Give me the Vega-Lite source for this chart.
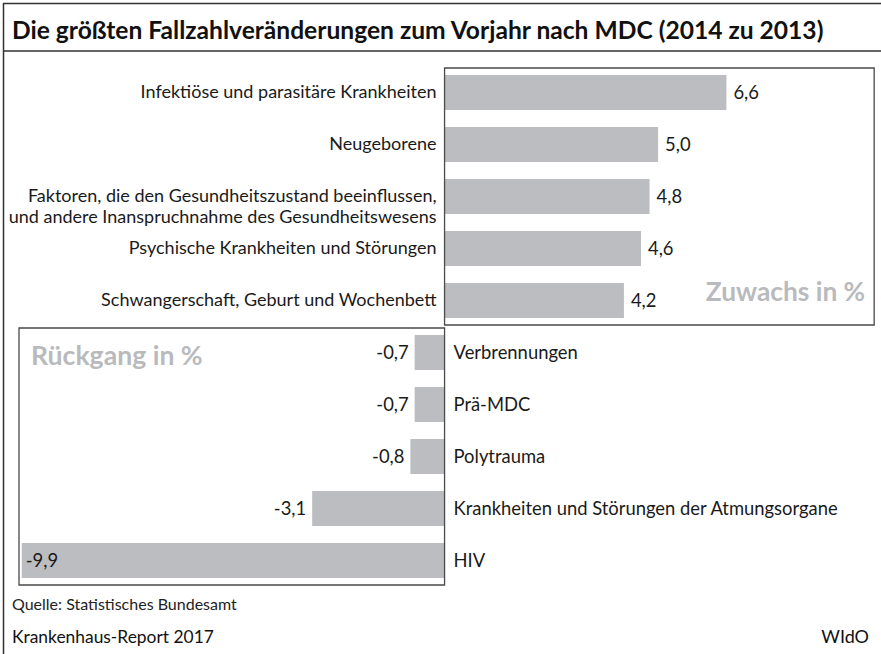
{
  "$schema": "https://vega.github.io/schema/vega-lite/v6.json",
  "width": 881,
  "height": 654,
  "autosize": "none",
  "padding": 0,
  "background": "white",
  "config": {
    "view": {"stroke": null},
    "font": "Lato",
    "locale": {"number": {"decimal": ",", "thousands": ".", "grouping": [3], "currency": ["", " €"], "minus": "-"}}
  },
  "datasets": {
    "mdc": [
      {"Kategorie": "Infektiöse und parasitäre Krankheiten", "Wert": 6.6},
      {"Kategorie": "Neugeborene", "Wert": 5.0},
      {"Kategorie": "Faktoren, die den Gesundheitszustand beeinflussen,\nund andere Inanspruchnahme des Gesundheitswesens", "Wert": 4.8},
      {"Kategorie": "Psychische Krankheiten und Störungen", "Wert": 4.6},
      {"Kategorie": "Schwangerschaft, Geburt und Wochenbett", "Wert": 4.2},
      {"Kategorie": "Verbrennungen", "Wert": -0.7},
      {"Kategorie": "Prä-MDC", "Wert": -0.7},
      {"Kategorie": "Polytrauma", "Wert": -0.8},
      {"Kategorie": "Krankheiten und Störungen der Atmungsorgane", "Wert": -3.1},
      {"Kategorie": "HIV", "Wert": -9.9}
    ],
    "boxen": [
      {"Bereich": "Zuwachs in %", "von": "Infektiöse und parasitäre Krankheiten", "bis": "Schwangerschaft, Geburt und Wochenbett", "min": 0, "max": 10.06},
      {"Bereich": "Rückgang in %", "von": "Verbrennungen", "bis": "HIV", "min": -9.965, "max": 0}
    ]
  },
  "layer": [
    {
      "data": {"name": "mdc"},
      "mark": {"type": "bar", "color": "#bcbdc0"},
      "encoding": {
        "y": {"field": "Kategorie", "type": "nominal", "axis": null,
              "scale": {"domain": ["Infektiöse und parasitäre Krankheiten", "Neugeborene", "Faktoren, die den Gesundheitszustand beeinflussen,\nund andere Inanspruchnahme des Gesundheitswesens", "Psychische Krankheiten und Störungen", "Schwangerschaft, Geburt und Wochenbett", "Verbrennungen", "Prä-MDC", "Polytrauma", "Krankheiten und Störungen der Atmungsorgane", "HIV"],
                        "range": [66.5, 586.5], "paddingInner": 0.327, "paddingOuter": 0.1635}},
        "x": {"field": "Wert", "type": "quantitative", "axis": null,
              "scale": {"domain": [-10.41, 10.22], "nice": false, "zero": false}},
        "x2": {"datum": 0}
      }
    },
    {
      "data": {"name": "mdc"},
      "transform": [{"filter": "datum.Wert > 0"}],
      "mark": {"type": "text", "align": "right", "baseline": "middle", "dx": -8, "fontSize": 18, "color": "#1a1a1a", "lineBreak": "\n", "lineHeight": 21},
      "encoding": {
        "y": {"field": "Kategorie", "type": "nominal"},
        "x": {"datum": 0, "type": "quantitative"},
        "text": {"field": "Kategorie"}
      }
    },
    {
      "data": {"name": "mdc"},
      "transform": [{"filter": "datum.Wert < 0"}],
      "mark": {"type": "text", "align": "left", "baseline": "middle", "dx": 9, "fontSize": 18.4, "color": "#1a1a1a"},
      "encoding": {
        "y": {"field": "Kategorie", "type": "nominal"},
        "x": {"datum": 0, "type": "quantitative"},
        "text": {"field": "Kategorie"}
      }
    },
    {
      "data": {"name": "mdc"},
      "transform": [{"filter": "datum.Wert > 0"}],
      "mark": {"type": "text", "align": "left", "baseline": "middle", "dx": 7, "fontSize": 18.4, "color": "#1a1a1a"},
      "encoding": {
        "y": {"field": "Kategorie", "type": "nominal"},
        "x": {"field": "Wert", "type": "quantitative"},
        "text": {"field": "Wert", "type": "quantitative", "format": ".1f"}
      }
    },
    {
      "data": {"name": "mdc"},
      "transform": [{"filter": "datum.Wert < 0 && datum.Wert > -5"}],
      "mark": {"type": "text", "align": "right", "baseline": "middle", "dx": -6, "fontSize": 18.4, "color": "#1a1a1a"},
      "encoding": {
        "y": {"field": "Kategorie", "type": "nominal"},
        "x": {"field": "Wert", "type": "quantitative"},
        "text": {"field": "Wert", "type": "quantitative", "format": ".1f"}
      }
    },
    {
      "data": {"name": "mdc"},
      "transform": [{"filter": "datum.Wert <= -5"}],
      "mark": {"type": "text", "align": "left", "baseline": "middle", "dx": 4, "fontSize": 18.4, "color": "#1a1a1a"},
      "encoding": {
        "y": {"field": "Kategorie", "type": "nominal"},
        "x": {"field": "Wert", "type": "quantitative"},
        "text": {"field": "Wert", "type": "quantitative", "format": ".1f"}
      }
    },
    {
      "data": {"name": "boxen"},
      "mark": {"type": "rect", "fillOpacity": 0, "stroke": "#4a4a4a", "strokeWidth": 1.3},
      "encoding": {
        "y": {"field": "von", "type": "nominal", "bandPosition": -0.2},
        "y2": {"field": "bis", "bandPosition": 1.2},
        "x": {"field": "min", "type": "quantitative"},
        "x2": {"field": "max"}
      }
    },
    {
      "data": {"name": "boxen"},
      "transform": [{"filter": "datum.min >= 0"}],
      "mark": {"type": "text", "align": "right", "baseline": "alphabetic", "dx": -9, "dy": 0, "fontSize": 26.3, "fontWeight": "bold", "color": "#b9babd"},
      "encoding": {
        "y": {"field": "bis", "type": "nominal"},
        "x": {"field": "max", "type": "quantitative"},
        "text": {"field": "Bereich"}
      }
    },
    {
      "data": {"name": "boxen"},
      "transform": [{"filter": "datum.min < 0"}],
      "mark": {"type": "text", "align": "left", "baseline": "middle", "dx": 12, "dy": 4, "fontSize": 26.6, "fontWeight": "bold", "color": "#b9babd"},
      "encoding": {
        "y": {"field": "von", "type": "nominal"},
        "x": {"field": "min", "type": "quantitative"},
        "text": {"field": "Bereich"}
      }
    },
    {
      "data": {"values": [{}]},
      "mark": {"type": "rule", "stroke": "#333333", "strokeWidth": 1.5},
      "encoding": {"x": {"value": 3}, "x2": {"value": 881}, "y": {"value": 3.5}}
    },
    {
      "data": {"values": [{}]},
      "mark": {"type": "rule", "stroke": "#333333", "strokeWidth": 1.5},
      "encoding": {"x": {"value": 3}, "x2": {"value": 881}, "y": {"value": 51}}
    },
    {
      "data": {"values": [{}]},
      "mark": {"type": "rule", "stroke": "#333333", "strokeWidth": 1.5},
      "encoding": {"x": {"value": 3.5}, "y": {"value": 3}, "y2": {"value": 654}}
    },
    {
      "data": {"values": [{"t": "Die größten Fallzahlveränderungen zum Vorjahr nach MDC (2014 zu 2013)"}]},
      "mark": {"type": "text", "align": "left", "baseline": "alphabetic", "fontSize": 24.6, "fontWeight": "bold", "color": "#111111"},
      "encoding": {"x": {"value": 12}, "y": {"value": 39}, "text": {"field": "t"}}
    },
    {
      "data": {"values": [{"t": "Quelle: Statistisches Bundesamt"}]},
      "mark": {"type": "text", "align": "left", "baseline": "alphabetic", "fontSize": 16, "color": "#222222"},
      "encoding": {"x": {"value": 12}, "y": {"value": 610}, "text": {"field": "t"}}
    },
    {
      "data": {"values": [{"t": "Krankenhaus-Report 2017"}]},
      "mark": {"type": "text", "align": "left", "baseline": "alphabetic", "fontSize": 17.4, "color": "#111111"},
      "encoding": {"x": {"value": 12}, "y": {"value": 643}, "text": {"field": "t"}}
    },
    {
      "data": {"values": [{"t": "WIdO"}]},
      "mark": {"type": "text", "align": "right", "baseline": "alphabetic", "fontSize": 18, "color": "#111111"},
      "encoding": {"x": {"value": 869}, "y": {"value": 643}, "text": {"field": "t"}}
    }
  ]
}
